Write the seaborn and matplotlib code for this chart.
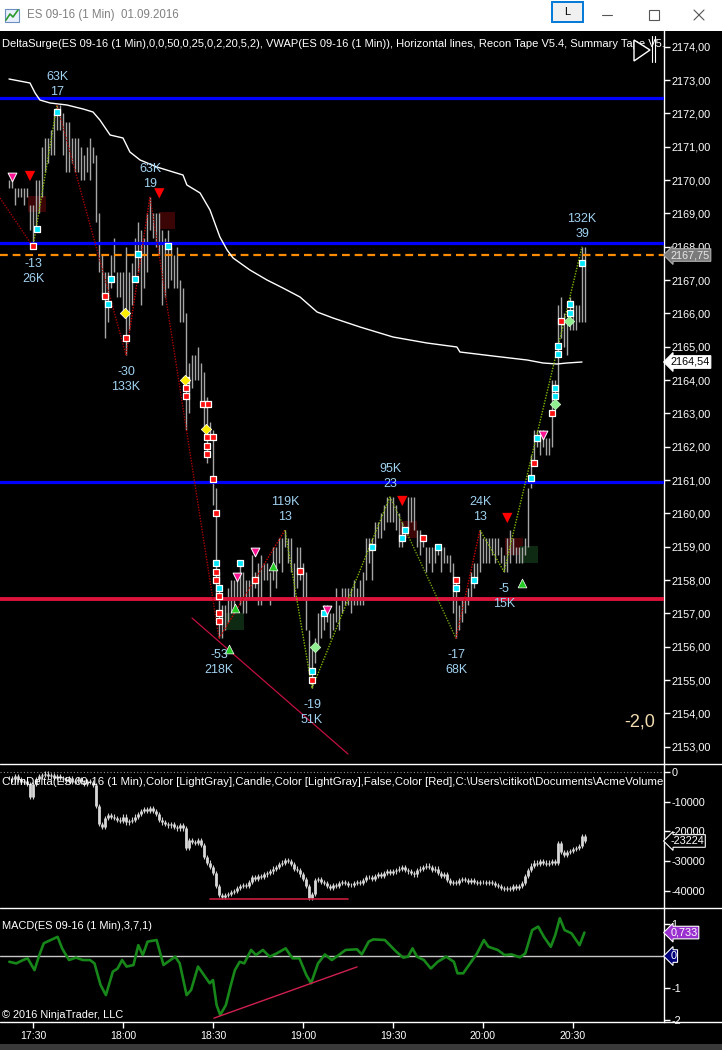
import matplotlib
matplotlib.use("Agg")
import matplotlib.pyplot as plt
import matplotlib.patches as mpatches
from matplotlib.lines import Line2D
import seaborn as sns
import pandas as pd

# ---------------- data (minutes after 17:30) ----------------
bar_start = -8
bar_high = [2170.0, 2170.0, 2169.75, 2169.75, 2169.75, 2169.75, 2169.75, 2169.25, 2169.25, 2170.0,
            2170.0, 2171.0, 2171.25, 2171.25, 2171.5, 2172.0, 2172.25, 2172.25, 2172.0, 2171.75,
            2171.75, 2171.25, 2171.25, 2171.25, 2171.0, 2170.75, 2171.0, 2171.25, 2171.0, 2170.75,
            2169.0, 2167.75, 2167.25, 2167.25, 2167.75, 2168.25, 2167.25, 2167.25, 2167.25, 2168.0,
            2167.25, 2167.5, 2168.25, 2168.75, 2168.5, 2168.25, 2169.0, 2169.5, 2169.0, 2169.0,
            2169.0, 2168.5, 2168.25, 2168.5, 2168.0, 2167.75, 2168.0, 2167.0, 2166.75, 2166.0,
            2164.5, 2164.75, 2164.75, 2165.0, 2164.5, 2164.25, 2163.5, 2162.75, 2162.5, 2160.75,
            2158.25, 2157.25, 2157.25, 2157.75, 2158.0, 2158.0, 2158.0, 2158.5, 2158.25, 2158.0,
            2158.0, 2158.75, 2158.25, 2158.5, 2158.75, 2158.5, 2158.5, 2158.25, 2159.0, 2159.0,
            2159.25, 2159.25, 2159.5, 2159.25, 2159.25, 2158.5, 2159.0, 2159.0, 2158.5, 2158.25,
            2156.5, 2156.0, 2156.25, 2157.0, 2157.0, 2157.25, 2157.25, 2157.0, 2157.0, 2157.75,
            2157.25, 2157.75, 2157.75, 2157.75, 2157.75, 2158.0, 2157.75, 2158.0, 2158.25, 2159.25,
            2159.25, 2159.25, 2159.75, 2159.75, 2160.0, 2160.25, 2160.5, 2160.5, 2160.5, 2160.25,
            2160.0, 2159.75, 2159.5, 2160.5, 2160.5, 2160.5, 2159.5, 2159.5, 2159.25, 2159.0,
            2159.0, 2159.0, 2159.0, 2159.0, 2159.0, 2159.0, 2158.75, 2158.75, 2158.5, 2158.0,
            2157.25, 2157.5, 2157.5, 2157.75, 2158.25, 2158.5, 2158.5, 2159.5, 2159.25, 2159.25,
            2159.25, 2159.25, 2159.25, 2159.25, 2159.0, 2158.75, 2159.25, 2159.5, 2159.25, 2159.0,
            2159.0, 2159.0, 2159.25, 2160.75, 2161.75, 2162.5, 2162.5, 2162.5, 2162.5, 2162.25,
            2162.25, 2164.0, 2164.0, 2166.25, 2166.5, 2166.0, 2165.75, 2166.5, 2166.25, 2166.25,
            2166.25, 2168.0, 2168.0]
bar_low = [2169.75, 2169.75, 2169.25, 2169.5, 2169.5, 2169.25, 2169.5, 2168.5, 2168.0, 2168.5,
           2169.0, 2169.5, 2170.25, 2170.5, 2170.75, 2170.75, 2171.5, 2171.5, 2170.75, 2170.25,
           2170.25, 2170.5, 2170.25, 2170.25, 2170.0, 2170.0, 2170.25, 2170.0, 2170.5, 2168.75,
           2167.25, 2166.5, 2165.25, 2165.75, 2166.75, 2167.25, 2166.5, 2166.5, 2166.0, 2164.75,
           2165.5, 2166.25, 2167.0, 2167.25, 2166.25, 2166.75, 2167.25, 2168.5, 2168.25, 2168.0,
           2167.75, 2166.25, 2166.5, 2166.75, 2167.0, 2166.75, 2166.75, 2165.75, 2165.75, 2162.5,
           2163.0, 2163.75, 2164.0, 2164.0, 2163.25, 2162.5, 2161.5, 2162.25, 2160.25, 2157.5,
           2156.25, 2156.25, 2156.5, 2156.75, 2157.0, 2157.0, 2157.5, 2157.25, 2157.0, 2157.0,
           2157.5, 2157.5, 2157.75, 2157.25, 2157.25, 2158.0, 2158.0, 2157.25, 2158.0, 2157.75,
           2158.5, 2158.25, 2159.0, 2158.5, 2158.25, 2157.5, 2157.75, 2158.0, 2157.5, 2156.5,
           2155.25, 2154.75, 2155.5, 2156.0, 2156.25, 2156.5, 2156.75, 2156.25, 2156.5, 2156.75,
           2156.5, 2157.0, 2157.25, 2157.25, 2157.0, 2157.25, 2157.25, 2157.25, 2157.25, 2158.0,
           2158.5, 2158.0, 2159.0, 2159.25, 2159.25, 2159.5, 2159.75, 2159.75, 2159.75, 2159.5,
           2159.0, 2159.0, 2159.25, 2159.5, 2159.75, 2159.5, 2159.0, 2158.75, 2159.0, 2158.25,
           2158.5, 2158.25, 2158.5, 2158.75, 2158.25, 2158.5, 2158.5, 2158.25, 2157.0, 2156.25,
           2156.5, 2156.75, 2157.0, 2157.25, 2157.5, 2157.75, 2158.0, 2158.25, 2158.5, 2158.5,
           2158.5, 2158.75, 2158.5, 2158.75, 2158.5, 2158.25, 2158.25, 2158.5, 2158.75, 2158.5,
           2158.5, 2158.5, 2158.75, 2159.0, 2160.75, 2161.5, 2162.0, 2161.75, 2162.0, 2161.75,
           2161.75, 2162.0, 2163.25, 2163.5, 2165.25, 2165.0, 2164.75, 2165.5, 2165.5, 2165.5,
           2165.75, 2165.75, 2165.75]

vwap_t = [-8, -1, 0.7, 2.3, 5.7, 11.3, 16.7, 20, 22.3, 25.7, 30, 32.3, 35.7, 41.3, 46.7, 50, 51.3,
          55.7, 59, 62.3, 64.7, 66.7, 72.3, 78, 83.3, 89, 94.7, 100, 109, 120, 131.3, 141.3, 142.3,
          153.3, 164.7, 170, 174.7, 178, 183]
vwap_p = [2173.03, 2172.91, 2172.61, 2172.40, 2172.31, 2172.25, 2172.13, 2172.04, 2171.80, 2171.35,
          2171.26, 2170.84, 2170.60, 2170.39, 2170.24, 2170.15, 2169.85, 2169.61, 2169.10, 2168.29,
          2167.90, 2167.66, 2167.30, 2167.00, 2166.76, 2166.49, 2166.04, 2165.86, 2165.59, 2165.29,
          2165.11, 2164.99, 2164.84, 2164.72, 2164.60, 2164.51, 2164.48, 2164.51, 2164.54]

# swing zigzag (DeltaSurge)
swing_t = [-11, 0, 8, 31, 39, 62, 84, 93, 119, 141, 149, 157, 183]
swing_p = [2169.46, 2168.0, 2172.25, 2164.75, 2169.5, 2156.25, 2159.5, 2154.75, 2160.5, 2156.25,
           2159.5, 2158.25, 2168.0]
swing_col = ["#a00000", "#7fb800", "#a80000", "#d00000", "#a80000", "#d00000", "#7fb800",
             "#7fb800", "#6f9e10", "#d00000", "#7fb800", "#7fb800"]
# labels: (top line, bottom line, above?)
swing_lbl = [None, ("-13", "26K", False), ("63K", "17", True), ("-30", "133K", False),
             ("63K", "19", True), ("-53", "218K", False), ("119K", "13", True),
             ("-19", "51K", False), ("95K", "23", True), ("-17", "68K", False),
             ("24K", "13", True), ("-5", "15K", False), ("132K", "39", True)]

hlines_blue = [2172.45, 2168.12, 2160.94]
hline_red = 2157.43
last_price = 2167.75
vwap_last = 2164.54

cyan_t = [1.2, 8, 25, 26, 34, 35, 45, 61, 62, 69, 93, 97, 113, 123, 124, 135, 141, 147, 166, 168,
          174, 174, 175, 175, 179, 179, 183]
cyan_p = [2168.53, 2172.04, 2166.28, 2167.03, 2167.03, 2167.78, 2168.02, 2158.5, 2157.76, 2158.5,
          2155.27, 2157.0, 2159.0, 2159.26, 2159.5, 2159.0, 2157.76, 2158.0, 2161.06, 2162.26,
          2163.76, 2163.52, 2165.02, 2164.78, 2166.28, 2166.0, 2167.5]
red_t = [0, 24, 31, 51, 51, 51, 56.8, 58.4, 58.1, 60.1, 58.1, 58.1, 60.1, 61, 61, 61, 62, 62, 62,
         74, 89, 93, 130, 141, 167, 173, 176]
red_p = [2168.02, 2166.52, 2165.26, 2164.0, 2163.76, 2163.52, 2163.28, 2163.28, 2162.3, 2162.3,
         2162.02, 2161.78, 2161.03, 2160.0, 2158.24, 2158.0, 2157.52, 2157.0, 2156.77, 2158.0,
         2158.27, 2155.0, 2159.26, 2158.0, 2161.5, 2163.0, 2165.77]
yellow_t = [30.7, 50.5, 57.7]
yellow_p = [2166.0, 2164.0, 2162.53]
lgreen_t = [94, 174, 178.8]
lgreen_p = [2156.0, 2163.28, 2165.77]
pink_t = [-6.9, 67.9, 74.1, 98.1, 170.1]
pink_p = [2170.1, 2158.1, 2158.84, 2157.1, 2162.35]
redtri_t = [-1, 42.1, 123.1, 158.1]
redtri_p = [2170.12, 2169.6, 2160.37, 2159.86]
greentri_t = [65.4, 67.3, 80.1, 163.1]
greentri_p = [2155.93, 2157.16, 2158.42, 2157.9]

# zones: t0, t1, p0, p1
red_zone_t0 = [-1.6, 42.1, 122.1, 157.3]
red_zone_t1 = [4.2, 47.3, 128.1, 163.4]
red_zone_p0 = [2169.04, 2168.53, 2159.26, 2158.75]
red_zone_p1 = [2169.52, 2169.05, 2159.77, 2159.27]
grn_zone_t0 = [64.3, 162.3]
grn_zone_t1 = [70.3, 168.2]
grn_zone_p0 = [2156.5, 2158.52]
grn_zone_p1 = [2157.02, 2159.02]

trend_price_t = [53, 105]
trend_price_p = [2156.86, 2152.78]

cum_close = [-2.0, -2.5, -1.5, -2.5, -3.5, -3.0, -4.0, -8.5, -4.0, -2.5,
             -1.5, -1.0, -0.5, -1.5, -1.0, -2.0, -1.5, -2.0, -2.5, -3.0,
             -2.0, -3.5, -3.0, -2.5, -3.5, -4.0, -3.0, -3.5, -4.5, -11.5,
             -17.5, -18.5, -15.5, -14.5, -15.0, -15.5, -16.0, -16.5, -15.0, -17.0,
             -16.5, -16.0, -15.0, -14.0, -13.0, -12.5, -13.0, -12.0, -13.0, -14.0,
             -16.0, -17.0, -17.5, -18.0, -17.5, -18.5, -19.0, -18.0, -19.0, -25.5,
             -23.0, -23.5, -24.0, -23.0, -24.5, -28.5, -30.5, -32.0, -34.0, -38.5,
             -41.5, -42.0, -41.5, -41.0, -40.5, -40.0, -39.0, -38.5, -38.0, -38.5,
             -37.0, -35.5, -36.0, -35.0, -35.5, -34.5, -34.0, -33.5, -32.5, -32.0,
             -31.0, -30.5, -29.5, -30.0, -31.0, -32.5, -33.0, -34.5, -36.0, -38.5,
             -42.5, -41.0, -36.5, -36.0, -37.0, -37.5, -38.5, -39.0, -38.0, -38.5,
             -37.5, -37.0, -37.5, -38.0, -38.0, -37.5, -37.0, -37.5, -36.5, -35.5,
             -35.5, -36.0, -35.0, -34.5, -35.0, -34.0, -33.5, -34.0, -33.5, -33.0,
             -32.5, -32.0, -33.0, -33.5, -34.0, -34.5, -33.0, -32.5, -32.0, -31.5,
             -32.0, -33.0, -32.5, -34.0, -35.0, -34.5, -36.5, -37.5, -37.0, -37.5,
             -36.5, -36.0, -36.5, -37.0, -36.5, -37.0, -37.5, -37.0, -37.0, -37.5,
             -37.0, -37.5, -38.0, -38.5, -39.0, -39.5, -39.0, -39.5, -38.5, -39.0,
             -38.5, -37.5, -35.0, -33.0, -31.5, -30.5, -31.0, -30.0, -30.5, -31.0,
             -30.5, -30.0, -30.5, -24.0, -27.0, -28.0, -27.0, -26.5, -26.0, -25.5,
             -25.0, -21.5, -23.224]
cum_last = -23224
cum_trend_t = [59, 105]
cum_trend_v = [-42800, -42800]

macd_t = [-7.9, -5.6, -3.3, -1.8, 0.5, 2.1, 3.6, 5.9, 8.2, 9.7, 12, 14.3, 16.6, 19, 20.5, 22.5,
          24.3, 26.6, 28.2, 29.7, 31.2, 33.5, 35.1, 36.6, 38.2, 41.2, 43.5, 45.8, 47.4, 48.9,
          51.2, 52.7, 55, 57.4, 58.9, 60, 61.2, 62.4, 64.3, 65.8, 67.3, 68.9, 70.4, 72.7, 74.3,
          76.6, 78.9, 81.2, 84.2, 86.5, 88.8, 91.1, 92.7, 95, 97.3, 99.6, 101.9, 104.2, 108,
          109.6, 111.9, 113.4, 117.3, 121.1, 123.4, 125, 126.5, 128, 130.3, 132.6, 134.9, 137.7,
          140.3, 141.5, 143.4, 145.7, 148, 150.3, 151.8, 154.9, 157.2, 159.5, 162.3, 164.1,
          166.4, 168.4, 170.3, 172.6, 174.1, 175.6, 177.2, 179.5, 182.2, 183.8]
macd_v = [-0.18, -0.23, -0.125, -0.07, -0.44, 0.03, 0.40, 0.5, 0.6, 0.24, -0.125, -0.05, -0.125,
          -0.125, -0.23, -0.9, -1.22, -0.49, -0.39, -0.125, -0.33, -0.28, 0.34, 0.03, 0.45, 0.5,
          -0.28, -0.125, -0.02, -0.23, -1.22, -1.06, -0.33, -0.65, -0.85, -0.75, -1.53, -1.84,
          -1.53, -0.96, -0.44, -0.18, -0.23, 0.19, 0.03, 0.19, -0.02, 0.08, 0.24, -0.07, -0.07,
          -0.59, -0.85, -0.23, 0.05, -0.125, 0.03, 0.19, 0.21, 0.05, 0.45, 0.52, 0.5, 0.135,
          -0.05, -0.02, 0.24, -0.02, -0.125, -0.39, -0.18, -0.02, -0.18, -0.54, -0.54, -0.23,
          0.08, 0.5, 0.29, 0.19, 0.03, 0.05, -0.04, 0.08, 0.81, 0.92, 0.6, 0.29, 0.66, 1.18,
          0.81, 0.71, 0.34, 0.733]
macd_trend_t = [60.3, 108]
macd_trend_v = [-1.94, -0.34]

time_ticks = [0, 30, 60, 90, 120, 150, 180]
time_labels = ["17:30", "18:00", "18:30", "19:00", "19:30", "20:00", "20:30"]
price_ticks = list(range(2153, 2175))
cum_ticks = [0, -10000, -20000, -30000, -40000]
macd_ticks = [1, -1, -2]   # the 0 level is shown by its own marker box

# ---------------- figure ----------------
sns.set_theme(style="dark", rc={"axes.facecolor": "black", "figure.facecolor": "black",
                                "axes.grid": False})
plt.rcParams['font.family'] = ['Liberation Sans', 'DejaVu Sans']

W, H = 722, 1050
fig = plt.figure(figsize=(W / 100, H / 100), dpi=100, facecolor="black")


def fx(px):
    return px / W


def fy(py):
    return 1 - py / H


XMIN, XMAX = -11, (664 - 33) / 3


def panel(top, bottom, ylim):
    ax = fig.add_axes([0, fy(bottom), 664 / W, (bottom - top) / H])
    ax.set_facecolor("black")
    ax.set_xlim(XMIN, XMAX)
    ax.set_ylim(*ylim)
    for s in ["left", "top", "bottom"]:
        ax.spines[s].set_visible(False)
    ax.spines["right"].set_color("white")
    ax.spines["right"].set_linewidth(1)
    ax.yaxis.tick_right()
    ax.tick_params(axis="y", colors="white", labelcolor="white", length=4, width=1,
                   labelsize=7.8, pad=1.5, right=True, left=False)
    ax.tick_params(axis="x", bottom=False, labelbottom=False)
    ax.grid(False)
    return ax


ax_p = panel(31, 764, (2152.48, 2174.47))
ax_c = panel(764, 908, (-45800, 2700))
ax_m = panel(908, 1022, (-2.06, 1.5))

# ---- price panel ----
bar_t = list(range(bar_start, bar_start + len(bar_high)))
bars = pd.DataFrame({"t": bar_t, "high": bar_high, "low": bar_low})
ax_p.vlines(bars["t"], bars["low"], bars["high"], color="#a6a6a6", lw=1.0, zorder=2)

for y in hlines_blue:
    ax_p.axhline(y, color="#0000ff", lw=2.3, zorder=3)
ax_p.axhline(hline_red, color="#dc143c", lw=2.8, zorder=3)
ax_p.axhline(last_price, color="#ff8c00", lw=1.6, dashes=(3.5, 2.2), zorder=3)

vw = pd.DataFrame({"t": vwap_t, "p": vwap_p})
sns.lineplot(data=vw, x="t", y="p", ax=ax_p, color="white", lw=1.0, zorder=4)
ax_p.set_xlabel("")
ax_p.set_ylabel("")

for t0, t1, p0, p1 in zip(red_zone_t0, red_zone_t1, red_zone_p0, red_zone_p1):
    ax_p.add_patch(mpatches.Rectangle((t0, p0), t1 - t0, p1 - p0, fc="#3c0505", ec="none", zorder=1))
for t0, t1, p0, p1 in zip(grn_zone_t0, grn_zone_t1, grn_zone_p0, grn_zone_p1):
    ax_p.add_patch(mpatches.Rectangle((t0, p0), t1 - t0, p1 - p0, fc="#0f2a12", ec="none", zorder=1))

for i in range(len(swing_t) - 1):
    ax_p.plot(swing_t[i:i + 2], swing_p[i:i + 2], color=swing_col[i], lw=1.0, ls=(0, (1, 1)), zorder=4)

ax_p.plot(trend_price_t, trend_price_p, color="#c01040", lw=0.9, zorder=4)

ax_p.scatter(cyan_t, cyan_p, marker="s", s=24, c="#00e8ff", edgecolors="white", linewidths=0.9, zorder=6)
ax_p.scatter(red_t, red_p, marker="s", s=24, c="#ff1010", edgecolors="white", linewidths=0.9, zorder=6)
ax_p.scatter(yellow_t, yellow_p, marker="D", s=28, c="#ffee00", edgecolors="white", linewidths=0.5, zorder=7)
ax_p.scatter(lgreen_t, lgreen_p, marker="D", s=28, c="#90ee90", edgecolors="#c8ffc8", linewidths=0.5, zorder=7)
ax_p.scatter(pink_t, pink_p, marker="v", s=40, c="#ff1493", edgecolors="white", linewidths=0.7, zorder=7)
ax_p.scatter(redtri_t, redtri_p, marker="v", s=55, c="#ff0000", edgecolors="none", zorder=7)
ax_p.scatter(greentri_t, greentri_p, marker="^", s=40, c="#22cc22", edgecolors="white", linewidths=0.5, zorder=7)

lbl_color = "#a0d2f0"
for t, p, lbl in zip(swing_t, swing_p, swing_lbl):
    if lbl is None:
        continue
    top, bot, above = lbl
    offs = (28, 13) if above else (-17, -32)
    for txt, o in zip((top, bot), offs):
        ax_p.annotate(txt, xy=(t, p), xytext=(0, o * 0.72),
                      textcoords="offset points", ha="center", va="center",
                      fontsize=9, color=lbl_color, zorder=8)

ax_p.set_yticks(price_ticks)
ax_p.set_yticklabels([f"{v},00" for v in price_ticks])

ax_p.text(0.003, (764 - 44) / 733, "DeltaSurge(ES 09-16 (1 Min),0,0,50,0,25,0,2,20,5,2), "
          "VWAP(ES 09-16 (1 Min)), Horizontal lines, Recon Tape V5.4, Summary Tape V5.4",
          transform=ax_p.transAxes, color="white", fontsize=8.05, ha="left", va="center",
          clip_on=True, zorder=9)
ax_p.text(640 / 664, (764 - 722) / 733, "-2,0", transform=ax_p.transAxes, color="#f2dcb0",
          fontsize=13, ha="center", va="center")

# play icon
fig.patches.append(mpatches.Polygon([[fx(634), fy(40)], [fx(634), fy(61)], [fx(650), fy(50)]],
                                    closed=True, fc="black", ec="white", lw=1,
                                    transform=fig.transFigure))
for xx in (652, 655):
    fig.lines.append(Line2D([fx(xx), fx(xx)], [fy(36), fy(62)], color="white", lw=0.8,
                            transform=fig.transFigure))


def axis_box(ax, val, txt, fc, tc, ec):
    ax.annotate(txt, xy=(1, val), xycoords=("axes fraction", "data"), xytext=(4.5, 0),
                textcoords="offset points", ha="left", va="center", fontsize=7.8, color=tc,
                bbox=dict(boxstyle="larrow,pad=0.12", fc=fc, ec=ec, lw=0.8),
                annotation_clip=False, zorder=10)


axis_box(ax_p, last_price, "2167,75", "#7a7a7a", "#e8e8e8", "#b0b0b0")
axis_box(ax_p, vwap_last, "2164,54", "white", "black", "white")

# ---- CumDelta panel ----
cum_v = [c * 1000 for c in cum_close]
cum_open = [cum_v[0]] + cum_v[:-1]
lo = [min(a, b) for a, b in zip(cum_open, cum_v)]
hi = [max(a, b) for a, b in zip(cum_open, cum_v)]
ax_c.vlines(bar_t, [v - 700 for v in lo], [v + 700 for v in hi], color="#cfcfcf", lw=0.8)
ax_c.vlines(bar_t, lo, hi, color="#d8d8d8", lw=2.0)
ax_c.axhline(0, color="#909090", lw=0.8, ls=(0, (1, 2)))
ax_c.plot(cum_trend_t, cum_trend_v, color="#c81e3c", lw=1.2)
ax_c.set_yticks(cum_ticks)
ax_c.set_yticklabels([str(v) for v in cum_ticks])
ax_c.text(0.003, (908 - 782) / 144, "CumDelta(ES 09-16 (1 Min),Color [LightGray],Candle,Color [LightGray],"
          "False,Color [Red],C:\\Users\\citikot\\Documents\\AcmeVolumeProfile",
          transform=ax_c.transAxes, color="white", fontsize=8.2, ha="left", va="center", clip_on=True)
axis_box(ax_c, cum_last, str(cum_last), "black", "white", "white")

# ---- MACD panel ----
ax_m.axhline(0, color="#c8c8c8", lw=1.0)
md = pd.DataFrame({"t": macd_t, "v": macd_v})
sns.lineplot(data=md, x="t", y="v", ax=ax_m, color="#17871a", lw=1.9)
ax_m.set_xlabel("")
ax_m.set_ylabel("")
ax_m.plot(macd_trend_t, macd_trend_v, color="#d02050", lw=1.0)
ax_m.set_yticks(macd_ticks)
ax_m.set_yticklabels([str(v) for v in macd_ticks])
ax_m.set_xticks(time_ticks)
ax_m.set_xticklabels(time_labels)
ax_m.tick_params(axis="x", bottom=True, labelbottom=True, colors="white", labelcolor="white",
                 length=4, width=1, labelsize=7.6, pad=2.5, direction="out")
ax_m.text(0.003, (1022 - 926) / 114, "MACD(ES 09-16 (1 Min),3,7,1)", transform=ax_m.transAxes,
          color="white", fontsize=7.9, ha="left", va="center")
ax_m.text(0.003, (1022 - 1015) / 114, "\u00a9 2016 NinjaTrader, LLC", transform=ax_m.transAxes,
          color="white", fontsize=7.9, ha="left", va="center")
axis_box(ax_m, 0.733, "0,733", "#9b30d0", "white", "white")
axis_box(ax_m, 0, "0", "#00007a", "white", "white")

# panel separators
for yy in (764, 908, 1022):
    fig.lines.append(Line2D([0, 1], [fy(yy), fy(yy)], color="white", lw=1, transform=fig.transFigure))

# ---- window title bar ----
fig.patches.append(mpatches.Rectangle((0, fy(31)), 1, 31 / H, fc="white", ec="none",
                                      transform=fig.transFigure, zorder=0))
fig.patches.append(mpatches.Rectangle((fx(0), fy(1050)), 1, 6 / H, fc="#3a3a3a", ec="none",
                                      transform=fig.transFigure))
fig.patches.append(mpatches.Rectangle((fx(5), fy(22)), fx(14), 13 / H, fc="#e8f0ff", ec="#6a8fc0",
                                      lw=0.8, transform=fig.transFigure))
fig.lines.append(Line2D([fx(6), fx(10), fx(13), fx(18)], [fy(20), fy(14), fy(17), fy(10)],
                        color="#2a9a2a", lw=1.2, transform=fig.transFigure))
fig.text(fx(27), fy(15), "ES 09-16 (1 Min)  01.09.2016", color="#808080", fontsize=8.3,
         ha="left", va="center")
fig.patches.append(mpatches.Rectangle((fx(552), fy(22)), fx(31), 20 / H, fc="#f0f0f0", ec="#0078d7",
                                      lw=1.4, transform=fig.transFigure))
fig.text(fx(567.5), fy(12), "L", color="black", fontsize=8, ha="center", va="center")
fig.lines.append(Line2D([fx(602), fx(612)], [fy(15), fy(15)], color="#555555", lw=0.8,
                        transform=fig.transFigure))
fig.patches.append(mpatches.Rectangle((fx(649), fy(20)), fx(10), 10 / H, fc="none", ec="#555555",
                                      lw=0.8, transform=fig.transFigure))
fig.lines.append(Line2D([fx(694), fx(704)], [fy(10), fy(20)], color="#555555", lw=0.8,
                        transform=fig.transFigure))
fig.lines.append(Line2D([fx(694), fx(704)], [fy(20), fy(10)], color="#555555", lw=0.8,
                        transform=fig.transFigure))

fig.savefig("out.png", dpi=100, facecolor="black")
